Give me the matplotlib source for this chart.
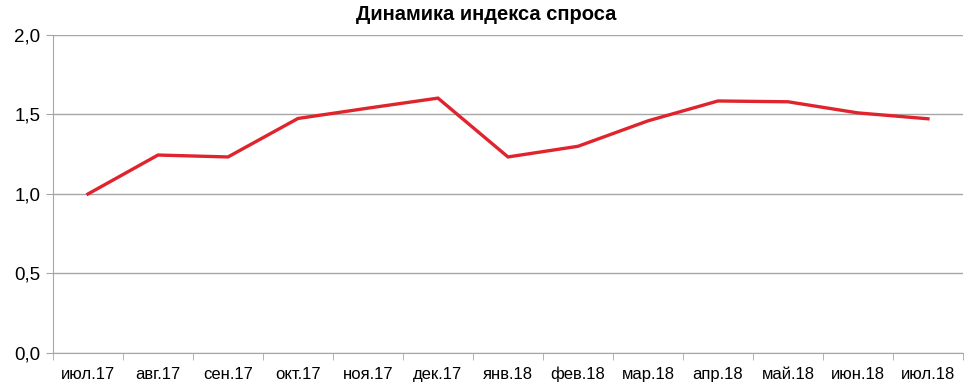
import matplotlib.pyplot as plt
import numpy as np
from matplotlib.ticker import FuncFormatter

plt.rcParams['font.family'] = ['Liberation Sans', 'DejaVu Sans']

months = ["июл.17", "авг.17", "сен.17", "окт.17", "ноя.17", "дек.17", "янв.18",
          "фев.18", "мар.18", "апр.18", "май.18", "июн.18", "июл.18"]
demand_index = [1.00, 1.245, 1.233, 1.475, 1.54, 1.603, 1.233,
                1.30, 1.46, 1.585, 1.58, 1.51, 1.473]

fig = plt.figure(figsize=(9.72, 3.91), dpi=100)
ax = fig.add_axes([0.0545, 0.0972, 0.9362, 0.8133])

x = np.arange(len(months))
ax.plot(x, demand_index, color="#E0242E", linewidth=2.4, solid_joinstyle="miter")

ax.set_xlim(-0.5, len(months) - 0.5)
ax.set_ylim(0, 2.0)
ax.set_yticks([0, 0.5, 1.0, 1.5, 2.0])
ax.yaxis.set_major_formatter(FuncFormatter(lambda v, p: f"{v:.1f}".replace(".", ",")))
ax.grid(axis="y", color="#A6A6A6", linewidth=1)
ax.set_axisbelow(True)

# category labels centred, tick marks between categories
ax.set_xticks(x)
ax.set_xticklabels(months, fontsize=12)
ax.set_xticks(np.arange(len(months) + 1) - 0.5, minor=True)
ax.tick_params(axis="x", which="major", length=0, pad=10)
ax.tick_params(axis="x", which="minor", length=5, color="#A6A6A6")
ax.tick_params(axis="y", length=5, color="#A6A6A6", labelsize=13.5, pad=4)

for s in ["top", "right"]:
    ax.spines[s].set_visible(False)
for s in ["left", "bottom"]:
    ax.spines[s].set_color("#A6A6A6")

fig.text(0.5, 0.962, "Динамика индекса спроса", ha="center", va="center",
         fontsize=14.5, fontweight="bold")

fig.savefig("out.png", dpi=100)
